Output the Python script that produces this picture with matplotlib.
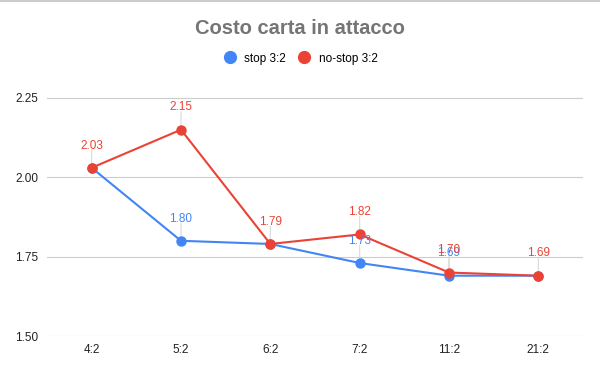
import matplotlib.pyplot as plt
from matplotlib.lines import Line2D

# data
categories = ['4:2', '5:2', '6:2', '7:2', '11:2', '21:2']
stop = [2.03, 1.80, 1.79, 1.73, 1.69, 1.69]
nostop = [2.03, 2.15, 1.79, 1.82, 1.70, 1.69]
stop_labeled = [False, True, False, True, True, False]
nostop_labeled = [True, True, True, True, True, True]

blue = '#4285F4'
red = '#EA4335'
plt.rcParams['font.family'] = ['Liberation Sans', 'DejaVu Sans']

fig = plt.figure(figsize=(6, 3.71), dpi=100)
ax = fig.add_axes([0.0783, 0.0943, 0.8934, 0.77])
x = list(range(len(categories)))

ax.plot(x, stop, color=blue, lw=1.5, marker='o', ms=6.5, zorder=3)
ax.plot(x, nostop, color=red, lw=1.5, marker='o', ms=6.5, zorder=4)

def labels(vals, flags, color):
    for i, (v, f) in enumerate(zip(vals, flags)):
        if not f:
            continue
        ax.annotate('', xy=(i, v), xytext=(0, 13), textcoords='offset points',
                    arrowprops=dict(arrowstyle='-', color='#d9d9d9', lw=0.8,
                                    shrinkA=0, shrinkB=3), zorder=2)
        ax.annotate('%.2f' % v, xy=(i, v), xytext=(0, 16), textcoords='offset points',
                    ha='center', va='center', color=color, fontsize=8.5, zorder=5)

labels(stop, stop_labeled, blue)
labels(nostop, nostop_labeled, red)

ax.set_xlim(-0.5, len(categories) - 0.5)
ax.set_ylim(1.5, 2.40)
ax.set_yticks([1.50, 1.75, 2.00, 2.25])
ax.set_yticklabels(['1.50', '1.75', '2.00', '2.25'])
ax.set_xticks(x)
ax.set_xticklabels(categories)
ax.grid(axis='y', color='#cccccc', lw=0.8, zorder=0)
ax.set_axisbelow(True)
for s in ax.spines.values():
    s.set_visible(False)
ax.tick_params(length=0, labelsize=8.5, colors='#222222', pad=6)

fig.text(0.5, 0.9245, 'Costo carta in attacco', ha='center', va='center',
         fontsize=14.5, fontweight='bold', color='#757575')
handles = [Line2D([], [], ls='', marker='o', ms=8.5, color=blue),
           Line2D([], [], ls='', marker='o', ms=8.5, color=red)]
fig.legend(handles, ['stop 3:2', 'no-stop 3:2'], loc='center', bbox_to_anchor=(0.5, 0.842),
           ncol=2, frameon=False, fontsize=8.5, handletextpad=0.6, columnspacing=1.0,
           handlelength=1.2)
fig.add_artist(Line2D([0, 1], [0.998, 0.998], transform=fig.transFigure, color='#cccccc', lw=1.5))

fig.savefig('out.png', dpi=100)
